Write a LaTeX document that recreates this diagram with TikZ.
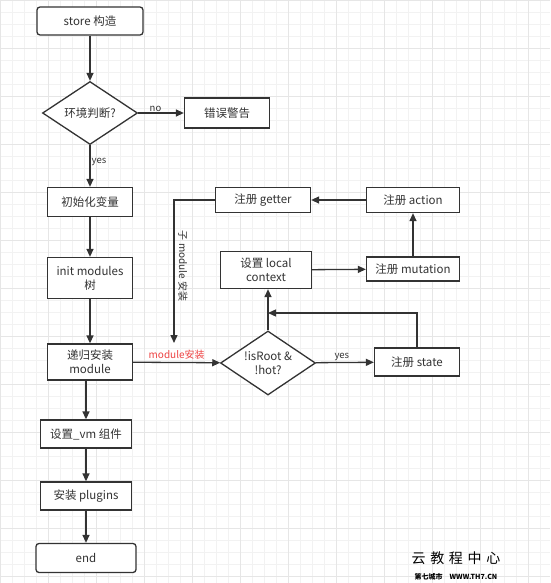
\documentclass[tikz,border=0pt]{standalone}
\usepackage{fontspec}
\setmainfont{Noto Sans CJK SC}
\usetikzlibrary{shapes.geometric,arrows.meta}
\definecolor{ln}{HTML}{333333}
\definecolor{gmin}{HTML}{F2F2F2}
\definecolor{gmaj}{HTML}{E6E6E6}
\definecolor{redlbl}{HTML}{EE4444}
\begin{document}
\begin{tikzpicture}[x=1pt,y=-1pt,
  font=\fontsize{11.5}{14}\selectfont,
  box/.style={draw=ln,line width=1.3pt,fill=white,text=ln,align=center,inner sep=0pt},
  rbox/.style={box,rounded corners=3pt},
  dia/.style={draw=ln,line width=1.3pt,fill=white,text=ln,diamond,align=center,inner sep=0pt},
  arr/.style={draw=ln,line width=1.3pt,-{Triangle[length=8pt,width=7pt]}},
  lbl/.style={text=ln,font=\fontsize{9.5}{11}\selectfont,inner sep=1pt}]
\useasboundingbox (0,0) rectangle (550,583);
\fill[white] (0,0) rectangle (550,583);
\draw[gmin,line width=0.6pt,step=12pt] (0,0) grid (550,583);
\draw[gmaj,line width=0.8pt,step=48pt] (0,0) grid (550,583);
% left column
\node[rbox,minimum width=106pt,minimum height=28pt] (store) at (90,21) {store 构造};
\node[dia,minimum width=95pt,minimum height=63pt] (env) at (90,113) {环境判断?};
\node[box,minimum width=85pt,minimum height=30pt] (err) at (227,113) {错误警告};
\node[box,minimum width=85pt,minimum height=29pt] (init) at (90,202) {初始化变量};
\node[box,minimum width=85pt,minimum height=41pt] (tree) at (90,278) {init modules\\树};
\node[box,minimum width=85pt,minimum height=36pt] (rec) at (90,362) {递归安装\\module};
\node[box,minimum width=91pt,minimum height=28pt] (vm) at (86,434) {设置\_vm 组件};
\node[box,minimum width=91pt,minimum height=28pt] (plug) at (86,496) {安装 plugins};
\node[rbox,minimum width=100pt,minimum height=29pt] (end) at (86,558) {end};
% right part
\node[box,minimum width=95pt,minimum height=25pt] (getter) at (263,200) {注册 getter};
\node[box,minimum width=93pt,minimum height=25pt] (action) at (413,200) {注册 action};
\node[box,minimum width=91pt,minimum height=37pt] (local) at (266,270) {设置 local\\context};
\node[box,minimum width=93pt,minimum height=24pt] (mut) at (413,269) {注册 mutation};
\node[dia,minimum width=95pt,minimum height=64pt,inner sep=-5pt] (root) at (268,363) {!isRoot \&\\!hot?};
\node[box,minimum width=85pt,minimum height=28pt] (state) at (417,362) {注册 state};
\coordinate (subend) at (174,343);
\coordinate (join) at (268,313);
% connectors
\draw[arr] (store) -- (env);
\draw[arr] (env) -- node[lbl,above,pos=0.38] {no} (err);
\draw[arr] (env) -- node[lbl,right,pos=0.4] {yes} (init);
\draw[arr] (init) -- (tree);
\draw[arr] (tree) -- (rec);
\draw[arr] (rec.south -| vm.north) -- (vm);
\draw[arr] (vm) -- (plug);
\draw[arr] (plug) -- (end);
\draw[arr] (rec) -- node[above,text=redlbl,font=\fontsize{10}{12}\selectfont,inner sep=2pt] {module安装} (root);
\draw[arr] (root) -- node[lbl,above,pos=0.45] {yes} (state);
\draw[arr] (root.north) -- (root.north |- local.south);
\draw[arr] (state.north) |- (join);
\draw[arr] (local) -- (mut);
\draw[arr] (mut) -- (action);
\draw[arr] (action) -- (getter);
\draw[arr] (getter.west) -| (subend);
\node[lbl,rotate=-90,font=\fontsize{10}{12}\selectfont] (sublbl) at (183,266) {子 module 安装};
% watermark
\node[text=black,font=\fontsize{14}{16}\selectfont,inner sep=0pt] (wm1) at (456,558) {云\,\,教\,\,程\,\,中\,\,心};
\node[text=black,font=\fontsize{7}{8}\selectfont\bfseries,inner sep=0pt] (wm2) at (456,577) {第七城市\quad WWW.TH7.CN};
\end{tikzpicture}
\end{document}
